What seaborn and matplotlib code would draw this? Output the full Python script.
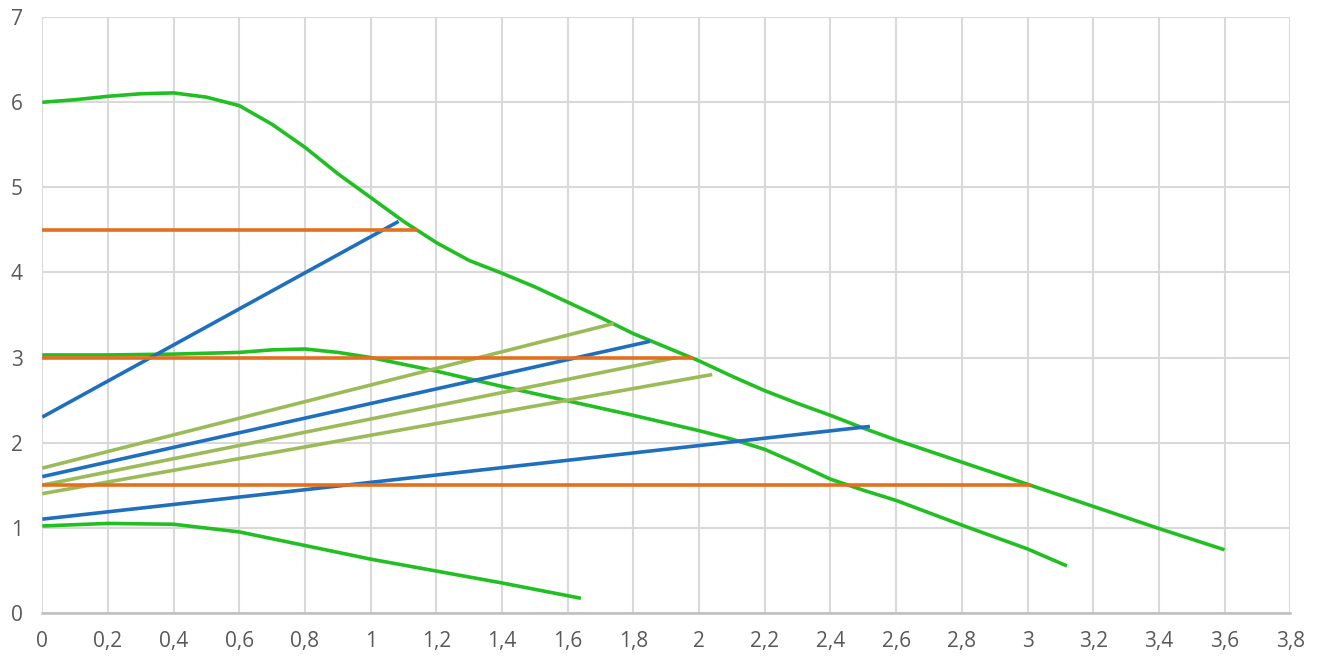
import matplotlib
matplotlib.use('Agg')
import matplotlib.pyplot as plt
import seaborn as sns
import pandas as pd

# Curvas verdes
x_top = [0, 0.1, 0.2, 0.3, 0.4, 0.5, 0.6, 0.7, 0.8, 0.9, 1.0, 1.1, 1.2, 1.3, 1.4, 1.5, 1.6, 1.7, 1.8, 1.9,
         2.0, 2.1, 2.2, 2.3, 2.4, 2.5, 2.6, 2.8, 3.0, 3.2, 3.4, 3.6]
y_top = [6.00, 6.03, 6.07, 6.10, 6.11, 6.06, 5.96, 5.74, 5.47, 5.16, 4.88, 4.60, 4.35, 4.14, 3.99, 3.83, 3.65, 3.47,
         3.28, 3.12, 2.96, 2.78, 2.61, 2.46, 2.32, 2.17, 2.03, 1.77, 1.51, 1.25, 0.99, 0.74]

x_mid = [0, 0.2, 0.4, 0.6, 0.7, 0.8, 0.9, 1.0, 1.1, 1.2, 1.4, 1.6, 1.8, 2.0, 2.1, 2.2, 2.3, 2.4, 2.5, 2.6, 2.8, 3.0, 3.12]
y_mid = [3.03, 3.03, 3.04, 3.06, 3.09, 3.10, 3.06, 3.00, 2.92, 2.84, 2.66, 2.49, 2.32, 2.14, 2.04, 1.92, 1.75, 1.57, 1.44,
         1.32, 1.03, 0.75, 0.55]

x_low = [0, 0.2, 0.4, 0.6, 0.7, 0.8, 1.0, 1.2, 1.4, 1.64]
y_low = [1.02, 1.05, 1.04, 0.95, 0.87, 0.79, 0.63, 0.49, 0.35, 0.17]

# Retas azuis
azul_x = [[0, 1.085], [0, 1.85], [0, 2.52]]
azul_y = [[2.30, 4.60], [1.60, 3.19], [1.10, 2.19]]

# Retas verde-oliva
oliva_x = [[0, 1.74], [0, 1.93], [0, 2.04]]
oliva_y = [[1.70, 3.40], [1.50, 3.00], [1.40, 2.80]]

# Retas laranja (horizontais)
laranja_x = [[0, 1.14], [0, 1.98], [0, 3.01]]
laranja_y = [[4.50, 4.50], [3.00, 3.00], [1.50, 1.50]]

x_ticks = [round(i * 0.2, 1) for i in range(20)]
x_labels = ['0', '0,2', '0,4', '0,6', '0,8', '1', '1,2', '1,4', '1,6', '1,8',
            '2', '2,2', '2,4', '2,6', '2,8', '3', '3,2', '3,4', '3,6', '3,8']
y_ticks = [0, 1, 2, 3, 4, 5, 6, 7]

verde = '#22BF22'
azul = '#1F6FBF'
oliva = '#9BBB59'
laranja = '#E2701E'

sns.set_style('white')
plt.rcParams['font.family'] = ['Open Sans', 'DejaVu Sans']

fig = plt.figure(figsize=(13.22, 6.61), dpi=100)
ax = fig.add_axes([0.032, 0.073, 0.944, 0.901])

lw = 2.6
estilo = dict(linewidth=lw, sort=False, ax=ax, solid_joinstyle='round', solid_capstyle='butt')
for xs, ys in [(x_top, y_top), (x_mid, y_mid), (x_low, y_low)]:
    sns.lineplot(x=xs, y=ys, color=verde, **estilo)
for xs, ys in zip(oliva_x, oliva_y):
    sns.lineplot(x=xs, y=ys, color=oliva, **estilo)
for xs, ys in zip(azul_x, azul_y):
    sns.lineplot(x=xs, y=ys, color=azul, **estilo)
for xs, ys in zip(laranja_x, laranja_y):
    sns.lineplot(x=xs, y=ys, color=laranja, **estilo)

ax.set_xlim(0, 3.8)
ax.set_ylim(0, 7)
ax.set_xticks(x_ticks)
ax.set_xticklabels(x_labels)
ax.set_yticks(y_ticks)
ax.grid(True, color='#D9D9D9', linewidth=1.5)
ax.set_axisbelow(True)
for s in ['top', 'right', 'left']:
    ax.spines[s].set_visible(False)
ax.spines['bottom'].set_color('#BFBFBF')
ax.spines['bottom'].set_linewidth(1.8)
ax.tick_params(axis='x', length=0, pad=13, labelsize=15, labelcolor='#595959')
ax.tick_params(axis='y', length=0, pad=14, labelsize=15, labelcolor='#595959')

plt.savefig('out.png', dpi=100)
